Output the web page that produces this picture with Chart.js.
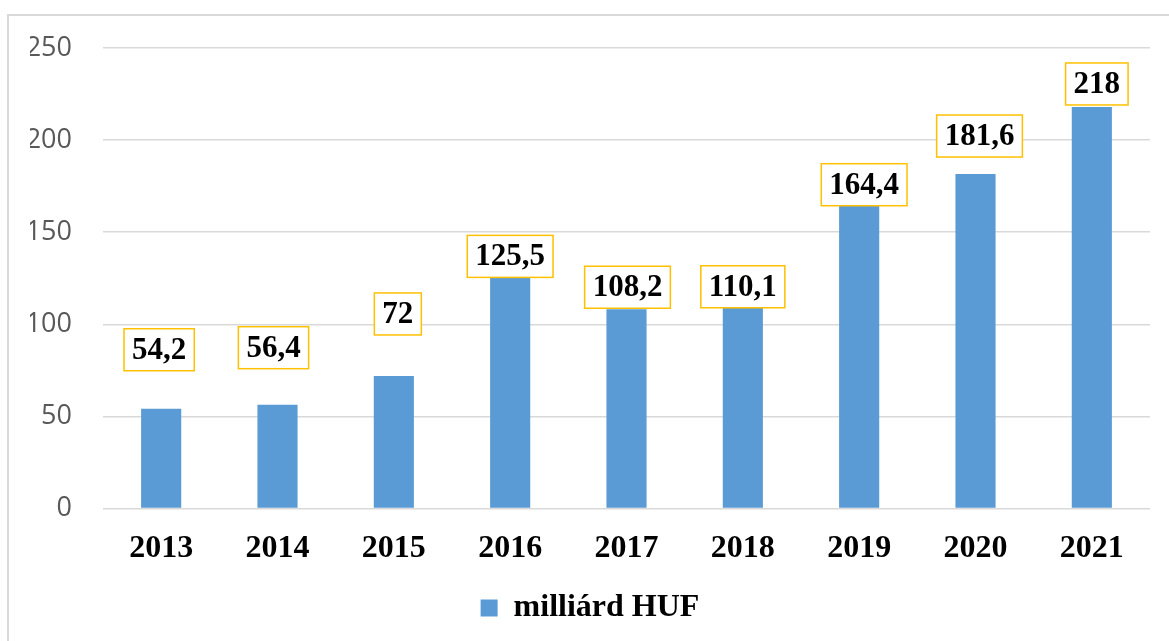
<!DOCTYPE html>
<html>
<head>
<meta charset="utf-8">
<script src="https://cdn.jsdelivr.net/npm/chart.js@4"></script>
<style>
  html, body { margin: 0; padding: 0; background: #fff; }
  #wrap { position: relative; width: 1169px; height: 641px; overflow: hidden; }
  #frame { position: absolute; left: 7px; top: 14px; width: 1200px; height: 700px; border: 2px solid #D9D9D9; box-sizing: border-box; }
  canvas { position: absolute; left: 0; top: 0; }
</style>
</head>
<body>
<div id="wrap">
  <div id="frame"></div>
  <canvas id="chart" width="1169" height="641"></canvas>
</div>
<script>
// data
const years = ['2013', '2014', '2015', '2016', '2017', '2018', '2019', '2020', '2021'];
const values = [54.2, 56.4, 72, 125.5, 108.2, 110.1, 164.4, 181.6, 218];
const seriesName = 'milliárd HUF';
const yTicks = [0, 50, 100, 150, 200, 250];

// label box nudges (px): lift above bar top, sideways shift
const labelLift = [38, 36, 41, 0, 1, -2, 0, 17, 2];
const labelShift = [-2, -4, 4, 0, 1, 0, 5, 4, 5];

const fmt = v => String(v).replace('.', ',');

const boxedLabels = {
    id: 'boxedLabels',
    afterDatasetsDraw(chart) {
        const ctx = chart.ctx;
        const meta = chart.getDatasetMeta(0);
        ctx.save();
        ctx.font = 'bold 31px "Liberation Serif", "Times New Roman", serif';
        ctx.textAlign = 'center';
        ctx.textBaseline = 'middle';
        meta.data.forEach((bar, i) => {
            const txt = fmt(values[i]);
            const w = ctx.measureText(txt).width + 16;
            const h = 42;
            const cx = bar.x + labelShift[i];
            const bottom = bar.y - labelLift[i];
            const top = bottom - h;
            ctx.fillStyle = '#fff';
            ctx.fillRect(cx - w / 2, top, w, h);
            ctx.strokeStyle = '#FFC000';
            ctx.lineWidth = 1.5;
            ctx.strokeRect(cx - w / 2, top, w, h);
            ctx.fillStyle = '#000';
            ctx.fillText(txt, cx, top + h / 2 + 1);
        });
        ctx.restore();
    }
};

const ctx = document.getElementById('chart').getContext('2d');
new Chart(ctx, {
    type: 'bar',
    data: {
        labels: years,
        datasets: [{
            label: seriesName,
            data: values,
            backgroundColor: '#5B9BD5',
            borderWidth: 0,
            categoryPercentage: 1,
            barPercentage: 0.345
        }]
    },
    options: {
        responsive: false,
        animation: false,
        layout: { padding: { left: 30, right: 19, top: 48, bottom: 7 } },
        plugins: {
            legend: {
                position: 'bottom',
                labels: {
                    boxWidth: 17,
                    boxHeight: 17,
                    padding: 11,
                    color: '#000',
                    font: { family: '"Liberation Serif", "Times New Roman", serif', size: 32, weight: 'bold' }
                }
            },
            tooltip: { enabled: false }
        },
        scales: {
            x: {
                grid: { display: false },
                border: { display: false },
                ticks: {
                    color: '#000',
                    padding: 13,
                    font: { family: '"Liberation Serif", "Times New Roman", serif', size: 32, weight: 'bold' }
                }
            },
            y: {
                min: 0,
                max: 250,
                afterFit: s => { s.width = 73; },
                afterBuildTicks: s => { s.ticks = yTicks.map(v => ({ value: v })); },
                grid: { color: '#D9D9D9', lineWidth: 1.5, drawTicks: false },
                border: { display: false },
                ticks: {
                    color: '#595959',
                    padding: 31,
                    font: { family: '"Open Sans", sans-serif', size: 27 }
                }
            }
        }
    },
    plugins: [boxedLabels]
});
</script>
</body>
</html>
